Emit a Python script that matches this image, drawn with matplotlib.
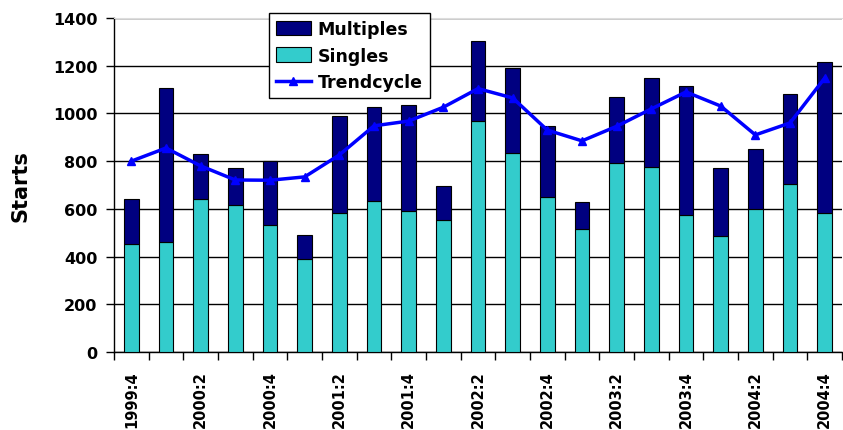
import matplotlib.pyplot as plt
import numpy as np

# quarterly starts, 1999:4 .. 2004:4
quarters = ['1999:4', '2000:1', '2000:2', '2000:3', '2000:4',
            '2001:1', '2001:2', '2001:3', '2001:4',
            '2002:1', '2002:2', '2002:3', '2002:4',
            '2003:1', '2003:2', '2003:3', '2003:4',
            '2004:1', '2004:2', '2004:3', '2004:4']

singles = [453, 461, 641, 616, 532, 390, 583, 633, 591, 553, 968,
           834, 650, 516, 792, 775, 574, 486, 600, 704, 583]
totals = [641, 1108, 830, 771, 800, 490, 990, 1026, 1035, 696, 1303,
          1190, 947, 629, 1069, 1148, 1114, 771, 851, 1081, 1216]
multiples = [t - s for t, s in zip(totals, singles)]
trend = [800, 855, 780, 721, 720, 734, 826, 948, 968, 1026, 1104,
         1065, 930, 885, 946, 1019, 1090, 1031, 910, 960, 1148]

plt.rcParams['font.family'] = ['DejaVu Sans']
plt.rcParams['font.weight'] = 'bold'

fig = plt.figure(figsize=(8.43, 4.31), dpi=100, facecolor='white')
ax = fig.add_axes([114 / 843, 78 / 431, 728 / 843, 334 / 431])

x = np.arange(len(quarters))
w = 0.43
b_s = ax.bar(x, singles, w, color='#33CCCC', edgecolor='black', linewidth=0.8,
             label='Singles', zorder=3)
b_m = ax.bar(x, multiples, w, bottom=singles, color='#000080', edgecolor='black',
             linewidth=0.8, label='Multiples', zorder=3)
ln, = ax.plot(x, trend, color='#0000FF', linewidth=2.5, marker='^', markersize=6,
              label='Trendcycle', zorder=4)

ax.set_xlim(-0.5, len(quarters) - 0.5)
ax.set_ylim(0, 1400)
ax.set_yticks(range(0, 1401, 200))
ax.tick_params(axis='y', labelsize=11.5, length=6, width=1, direction='out', pad=6)
ax.yaxis.grid(True, color='black', linewidth=1, zorder=0)
ax.set_axisbelow(True)

# labels under every other quarter, ticks at the bar boundaries
ax.set_xticks(x[::2])
ax.set_xticklabels(quarters[::2], rotation=90, fontsize=10.5)
ax.tick_params(axis='x', length=0, pad=13)
ax.set_xticks(np.arange(-0.5, len(quarters), 1), minor=True)
ax.tick_params(axis='x', which='minor', length=6, width=1, direction='out')

ax.set_ylabel('Starts', fontsize=15, fontweight='bold', labelpad=16)

ax.spines['top'].set_color('#dddddd')
ax.spines['right'].set_visible(False)
ax.spines['left'].set_linewidth(1)
ax.spines['bottom'].set_linewidth(1)

leg = ax.legend([b_m, b_s, ln], ['Multiples', 'Singles', 'Trendcycle'],
                loc='upper left', bbox_to_anchor=(0.213, 1.015),
                fontsize=12.5, frameon=True, fancybox=False, edgecolor='black',
                framealpha=1, handlelength=2.0, handleheight=0.9,
                borderpad=0.4, labelspacing=0.5, handletextpad=0.4,
                borderaxespad=0)
leg.get_frame().set_linewidth(1)
leg.set_zorder(10)

fig.savefig('out.png', dpi=100, facecolor='white')
